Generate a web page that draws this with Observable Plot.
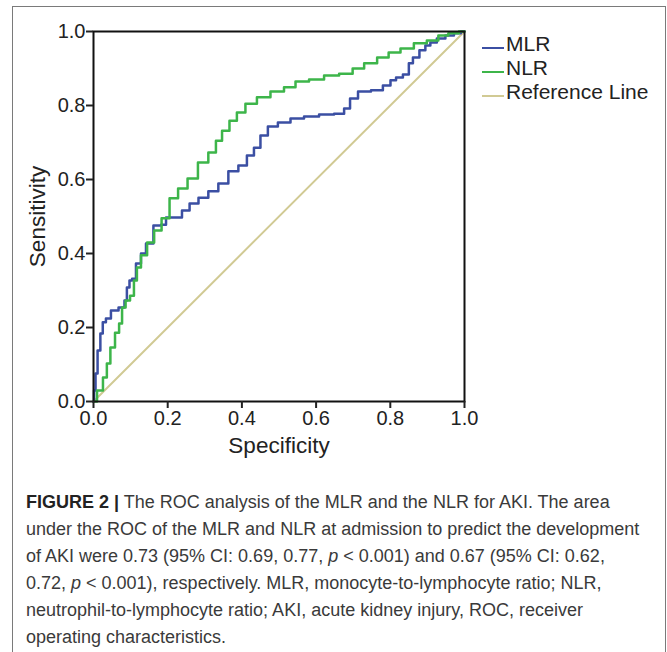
<!DOCTYPE html>
<html><head><meta charset="utf-8">
<script src="https://cdn.jsdelivr.net/npm/d3@7"></script>
<script src="https://cdn.jsdelivr.net/npm/@observablehq/plot@0.6"></script>
<style>
body{margin:0;background:#fff;font-family:"Liberation Sans",Arial,sans-serif;}
#wrap{position:relative;width:667px;height:652px;overflow:hidden;background:#fff;}
#box{position:absolute;left:12px;top:6px;width:652px;height:700px;border:1.5px solid #7a7a7a;}
#chart{position:absolute;left:0;top:0;}
#legend{position:absolute;left:482px;top:32px;}
.row{display:flex;align-items:center;height:24px;font-size:21px;color:#222;white-space:nowrap}
.sw{width:22px;height:2.5px;margin-right:2px;margin-top:8px}
#caption{position:absolute;left:26px;top:489px;font-size:18px;line-height:27px;color:#3a3a3a;white-space:nowrap}
#caption b{color:#222}
</style></head>
<body>
<div id="wrap">
  <div id="box"></div>
  <div id="chart"></div>
  <div id="legend"></div>
  <div id="caption"></div>
</div>
<script>
// ---- data ----
const mlrX = [0,0.003,0.008,0.014,0.023,0.027,0.040,0.054,0.081,0.086,0.094,0.100,0.108,0.121,0.135,0.148,0.175,0.189,0.202,0.229,0.248,0.270,0.296,0.323,0.350,0.377,0.404,0.423,0.442,0.458,0.482,0.512,0.550,0.585,0.631,0.666,0.685,0.698,0.728,0.768,0.792,0.809,0.822,0.846,0.854,0.868,0.889,0.900,0.916,0.935,0.962,0.981,1];
const mlrY = [0,0.030,0.076,0.138,0.184,0.214,0.224,0.246,0.254,0.273,0.308,0.327,0.332,0.373,0.400,0.427,0.476,0.478,0.497,0.497,0.516,0.535,0.551,0.568,0.589,0.622,0.638,0.665,0.686,0.719,0.743,0.754,0.765,0.770,0.776,0.778,0.792,0.819,0.838,0.841,0.854,0.868,0.876,0.884,0.914,0.930,0.949,0.962,0.970,0.981,0.989,0.995,1];
const nlrX = [0,0.019,0.032,0.040,0.051,0.065,0.073,0.081,0.092,0.105,0.113,0.121,0.135,0.154,0.173,0.194,0.216,0.240,0.267,0.296,0.323,0.337,0.356,0.377,0.396,0.423,0.458,0.496,0.531,0.558,0.604,0.639,0.685,0.712,0.747,0.782,0.809,0.846,0.881,0.916,0.943,0.970,1];
const nlrY = [0,0.030,0.065,0.103,0.146,0.186,0.211,0.254,0.273,0.286,0.327,0.362,0.395,0.430,0.462,0.495,0.549,0.576,0.603,0.646,0.673,0.705,0.732,0.759,0.781,0.805,0.822,0.838,0.849,0.865,0.870,0.881,0.886,0.900,0.914,0.930,0.943,0.954,0.968,0.976,0.989,0.995,1];
const refX = [0,1];
const refY = [0,1];
const ticks = [0,0.2,0.4,0.6,0.8,1.0];
const seriesNames = ["MLR","NLR","Reference Line"];
const seriesColors = ["#3b4fa3","#3db54a","#d1ca94"];
const captionLines = [
  '<b>FIGURE 2 |</b> The ROC analysis of the MLR and the NLR for AKI. The area',
  'under the ROC of the MLR and NLR at admission to predict the development',
  'of AKI were 0.73 (95% CI: 0.69, 0.77, <i>p</i> &lt; 0.001) and 0.67 (95% CI: 0.62,',
  '0.72, <i>p</i> &lt; 0.001), respectively. MLR, monocyte-to-lymphocyte ratio; NLR,',
  'neutrophil-to-lymphocyte ratio; AKI, acute kidney injury, ROC, receiver',
  'operating characteristics.'
];

const toRows = (xs, ys) => xs.map((x, i) => ({x, y: ys[i]}));
const mlr = toRows(mlrX, mlrY), nlr = toRows(nlrX, nlrY), ref = toRows(refX, refY);
const fmt = d3.format(".1f");

const chart = Plot.plot({
  width: 667, height: 470,
  marginLeft: 93, marginRight: 203, marginTop: 31, marginBottom: 69,
  x: {domain: [0, 1]},
  y: {domain: [0, 1]},
  style: {fontFamily: "'Liberation Sans', Arial, sans-serif", fontSize: "20px", color: "#222", background: "transparent"},
  marks: [
    Plot.line(ref, {x: "x", y: "y", stroke: seriesColors[2], strokeWidth: 2}),
    Plot.line(mlr, {x: "x", y: "y", stroke: seriesColors[0], strokeWidth: 2.5, curve: "step"}),
    Plot.line(nlr, {x: "x", y: "y", stroke: seriesColors[1], strokeWidth: 2.5, curve: "step"}),
    Plot.frame({stroke: "#111", strokeWidth: 2}),
    Plot.axisX({ticks, tickFormat: fmt, tickSize: 7, tickPadding: 2, strokeWidth: 2, label: null, fontSize: 20}),
    Plot.axisY({ticks, tickFormat: fmt, tickSize: 7, tickPadding: 1, strokeWidth: 2, label: null, fontSize: 20}),
    Plot.text(["Specificity"], {frameAnchor: "bottom", dy: 51, fontSize: 22.5, fill: "#222"}),
    Plot.text(["Sensitivity"], {frameAnchor: "left", textAnchor: "middle", dx: -56, rotate: -90, fontSize: 22.5, fill: "#222"})
  ]
});
document.getElementById("chart").append(chart);

const leg = document.getElementById("legend");
seriesNames.forEach((n, i) => {
  const r = document.createElement("div"); r.className = "row";
  r.innerHTML = `<span class="sw" style="background:${seriesColors[i]}"></span><span>${n}</span>`;
  leg.append(r);
});
document.getElementById("caption").innerHTML = captionLines.map(l => `<div>${l}</div>`).join("");
</script>
</body></html>
